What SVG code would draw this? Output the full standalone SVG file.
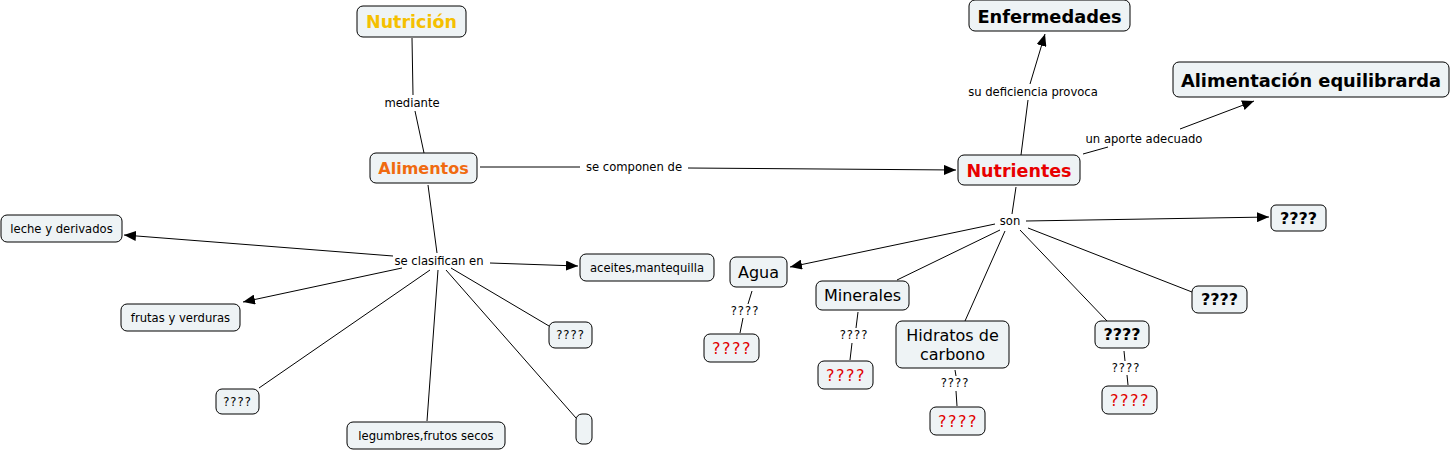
<svg xmlns="http://www.w3.org/2000/svg" width="1452" height="452" viewBox="0 0 1452 452">
<defs>
<marker id="arr" viewBox="0 0 12 10" refX="12" refY="5" markerWidth="12" markerHeight="10" markerUnits="userSpaceOnUse" orient="auto">
<path d="M0,0 L12,5 L0,10 Z" fill="#000"/>
</marker>
<style>
.n{fill:#eef3f5;stroke:#000;stroke-width:1}
.t{font-family:"DejaVu Sans",Verdana,sans-serif;text-anchor:middle;dominant-baseline:central}
.s{font-size:11.6px;fill:#000}
.m{font-size:16px;fill:#000}
.b{font-weight:bold}
.r{fill:#e00000;letter-spacing:1.5px}
.q{letter-spacing:1px}
.l{font-size:11.6px;fill:#000}
.c line{stroke:#000;stroke-width:1;fill:none}
.c .a{marker-end:url(#arr)}
</style>
</defs>
<rect width="1452" height="452" fill="#fff"/>
<g class="c">
<line x1="412" y1="38" x2="413" y2="95"/>
<line x1="415" y1="111" x2="424" y2="153"/>
<line x1="480" y1="167" x2="580" y2="167"/>
<line class="a" x1="688" y1="168" x2="956" y2="170"/>
<line x1="428" y1="185" x2="437" y2="253"/>
<line class="a" x1="393" y1="256" x2="124" y2="235"/>
<line class="a" x1="402" y1="268" x2="243" y2="302"/>
<line class="a" x1="490" y1="263" x2="578" y2="266"/>
<line x1="451" y1="268" x2="549" y2="326"/>
<line x1="430" y1="270" x2="259" y2="388"/>
<line x1="438" y1="270" x2="427" y2="421"/>
<line x1="446" y1="270" x2="576" y2="418"/>
<line x1="1021" y1="155" x2="1028" y2="100"/>
<line class="a" x1="1030" y1="84" x2="1045" y2="34"/>
<line x1="1083" y1="154" x2="1108" y2="147"/>
<line class="a" x1="1180" y1="129" x2="1254" y2="101"/>
<line x1="1016" y1="187" x2="1012" y2="214"/>
<line class="a" x1="1026" y1="221" x2="1269" y2="217"/>
<line class="a" x1="995" y1="224" x2="790" y2="267"/>
<line x1="1000" y1="230" x2="897" y2="280"/>
<line x1="1005" y1="231" x2="965" y2="321"/>
<line x1="1020" y1="230" x2="1107" y2="321"/>
<line x1="1028" y1="228" x2="1192" y2="292"/>
<line x1="752" y1="291" x2="748" y2="304"/>
<line x1="743" y1="318" x2="740" y2="333"/>
<line x1="858" y1="312" x2="856" y2="328"/>
<line x1="852" y1="343" x2="850" y2="360"/>
<line x1="955" y1="370" x2="956" y2="376"/>
<line x1="956" y1="391" x2="957" y2="406"/>
<line x1="1124" y1="351" x2="1125" y2="361"/>
<line x1="1127" y1="375" x2="1128" y2="385"/>
</g>
<g class="t l">
<text x="412" y="103">mediante</text>
<text x="634" y="167">se componen de</text>
<text x="439" y="261">se clasifican en</text>
<text x="1033" y="92">su deficiencia provoca</text>
<text x="1144" y="139">un aporte adecuado</text>
<text x="1010" y="221">son</text>
<text class="q" x="745" y="311">????</text>
<text class="q" x="854" y="335">????</text>
<text class="q" x="955" y="383">????</text>
<text class="q" x="1126" y="368">????</text>
</g>
<g id="nutricion"><rect class="n" x="357" y="6" width="109" height="31" rx="6"/><text class="t b" x="411.5" y="22" font-size="17.5" fill="#f5c000">Nutrición</text></g>
<g id="alimentos"><rect class="n" x="370" y="153" width="107" height="30" rx="6"/><text class="t b" x="423.5" y="168.5" font-size="16" fill="#f06a10">Alimentos</text></g>
<g id="nutrientes"><rect class="n" x="958" y="155" width="122" height="30" rx="6"/><text class="t b" x="1019" y="170.5" font-size="17.5" fill="#e80000">Nutrientes</text></g>
<g id="enfermedades"><rect class="n" x="969" y="0" width="161" height="31" rx="6"/><text class="t b" x="1049.5" y="16" font-size="17.8" fill="#000">Enfermedades</text></g>
<g id="alimentacion"><rect class="n" x="1173" y="62" width="276" height="35" rx="6"/><text class="t b" x="1311" y="80" font-size="17.8" fill="#000">Alimentación equilibrarda</text></g>
<g id="q-right"><rect class="n" x="1271" y="205" width="55" height="26" rx="5"/><text class="t b" x="1298.5" y="218.5" font-size="16" fill="#000">????</text></g>
<g id="leche"><rect class="n" x="1" y="215" width="121" height="27" rx="6"/><text class="t s" x="61.5" y="228.5">leche y derivados</text></g>
<g id="frutas"><rect class="n" x="121" y="304" width="119" height="27" rx="6"/><text class="t s" x="180.5" y="317.5">frutas y verduras</text></g>
<g id="aceites"><rect class="n" x="580" y="254" width="134" height="27" rx="6"/><text class="t s" x="647" y="267.5">aceites,mantequilla</text></g>
<g id="q-a1"><rect class="n" x="549" y="322" width="43" height="26" rx="6"/><text class="t s q" x="570.5" y="335">????</text></g>
<g id="q-a2"><rect class="n" x="216" y="389" width="43" height="25" rx="6"/><text class="t s q" x="237.5" y="401.5">????</text></g>
<g id="legumbres"><rect class="n" x="347" y="422" width="158" height="27" rx="6"/><text class="t s" x="426" y="435.5">legumbres,frutos secos</text></g>
<g id="empty"><rect class="n" x="576" y="414" width="16" height="30" rx="6"/></g>
<g id="agua"><rect class="n" x="730" y="257" width="57" height="30" rx="6"/><text class="t m" x="758.5" y="272" font-size="16.5">Agua</text></g>
<g id="minerales"><rect class="n" x="816" y="281" width="93" height="29" rx="6"/><text class="t m" x="862.5" y="295.5">Minerales</text></g>
<g id="hidratos"><rect class="n" x="896" y="321" width="113" height="47" rx="6"/><text class="t m" x="952.5" y="335" font-size="15.8">Hidratos de</text><text class="t m" x="952.5" y="354" font-size="15.8">carbono</text></g>
<g id="q-b1"><rect class="n" x="1095" y="321" width="54" height="27" rx="6"/><text class="t b" x="1122" y="334.5" font-size="16" fill="#000">????</text></g>
<g id="q-b2"><rect class="n" x="1192" y="286" width="55" height="27" rx="6"/><text class="t b" x="1219.5" y="299.5" font-size="16" fill="#000">????</text></g>
<g id="q-r1"><rect class="n" x="704" y="334" width="55" height="28" rx="6"/><text class="t m r" x="732" y="348" font-size="19">????</text></g>
<g id="q-r2"><rect class="n" x="818" y="361" width="55" height="28" rx="6"/><text class="t m r" x="846" y="375" font-size="19">????</text></g>
<g id="q-r3"><rect class="n" x="930" y="407" width="55" height="28" rx="6"/><text class="t m r" x="958" y="421" font-size="19">????</text></g>
<g id="q-r4"><rect class="n" x="1102" y="386" width="55" height="28" rx="6"/><text class="t m r" x="1130" y="400" font-size="19">????</text></g>
</svg>
